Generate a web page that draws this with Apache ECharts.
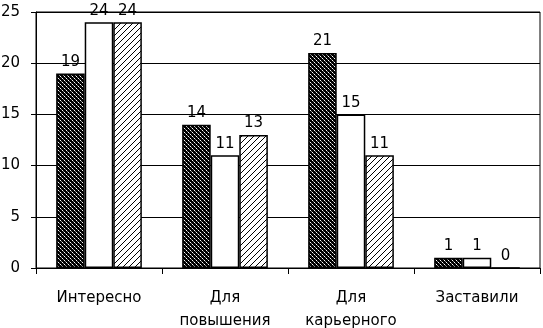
<!DOCTYPE html>
<html>
<head>
<meta charset="utf-8">
<script src="https://cdn.jsdelivr.net/npm/echarts@6/dist/echarts.min.js"></script>
<style>
    html, body { margin: 0; padding: 0; background: #fff; }
    #chart { width: 543px; height: 328px; }
</style>
</head>
<body>
<div id="chart"></div>
<script>
const categories = ['Интересно', 'Для\nповышения', 'Для\nкарьерного', 'Заставили'];
const seriesA = [19, 14, 21, 1];
const seriesB = [24, 11, 15, 1];
const seriesC = [24, 13, 11, 0];
const yTicks = { min: 0, max: 25, interval: 5 };

// dark bars: black with a fine lattice of white dots
function makeDotPattern() {
    const c = document.createElement('canvas');
    c.width = 4;
    c.height = 4;
    const ctx = c.getContext('2d');
    ctx.fillStyle = '#000';
    ctx.fillRect(0, 0, 4, 4);
    ctx.fillStyle = '#fff';
    ctx.fillRect(0, 0, 1, 1);
    ctx.fillRect(2, 2, 1, 1);
    ctx.fillStyle = '#888';
    ctx.fillRect(1, 1, 1, 1);
    ctx.fillRect(3, 3, 1, 1);
    return c;
}

// light bars: white with thin diagonal black lines
function makeHatchPattern() {
    const c = document.createElement('canvas');
    c.width = 6;
    c.height = 6;
    const ctx = c.getContext('2d');
    ctx.fillStyle = '#fff';
    ctx.fillRect(0, 0, 6, 6);
    ctx.fillStyle = '#000';
    for (let i = 0; i < 6; i++) {
        ctx.fillRect(i, 5 - i, 1, 1);
    }
    return c;
}

const labelStyle = {
    show: true,
    position: 'top',
    distance: 4,
    color: '#000',
    fontSize: 15,
    fontFamily: 'DejaVu Sans',
};

const chart = echarts.init(document.getElementById('chart'));

chart.setOption({
    animation: false,
    backgroundColor: '#fff',
    grid: {
        left: 36,
        right: 3,
        top: 12,
        bottom: 60,
        containLabel: false,
        outerBoundsMode: 'none',
        show: true,
        borderColor: '#000',
        borderWidth: 1,
    },
    xAxis: {
        type: 'category',
        data: categories,
        axisLine: { lineStyle: { color: '#000', width: 1 } },
        axisTick: { show: true, length: 6, lineStyle: { color: '#000' } },
        axisLabel: {
            color: '#000',
            fontSize: 15,
            fontFamily: 'DejaVu Sans',
            lineHeight: 23,
            margin: 19,
            interval: 0,
        },
    },
    yAxis: {
        type: 'value',
        min: yTicks.min,
        max: yTicks.max,
        interval: yTicks.interval,
        axisLine: { show: true, lineStyle: { color: '#000', width: 1 } },
        axisTick: { show: true, length: 5, lineStyle: { color: '#000' } },
        axisLabel: {
            color: '#000',
            fontSize: 15,
            fontFamily: 'DejaVu Sans',
            margin: 16,
        },
        splitLine: { lineStyle: { color: '#000', width: 1 } },
    },
    series: [
        {
            name: 'A',
            type: 'bar',
            data: seriesA,
            barGap: '0%',
            barCategoryGap: '32%',
            itemStyle: {
                color: { image: makeDotPattern(), repeat: 'repeat' },
                borderColor: '#000',
                borderWidth: 1.5,
            },
            label: labelStyle,
        },
        {
            name: 'B',
            type: 'bar',
            data: seriesB,
            itemStyle: {
                color: '#fff',
                borderColor: '#000',
                borderWidth: 1.5,
            },
            label: labelStyle,
        },
        {
            name: 'C',
            type: 'bar',
            data: seriesC,
            itemStyle: {
                color: { image: makeHatchPattern(), repeat: 'repeat' },
                borderColor: '#000',
                borderWidth: 1.5,
            },
            label: labelStyle,
        },
    ],
});
</script>
</body>
</html>
